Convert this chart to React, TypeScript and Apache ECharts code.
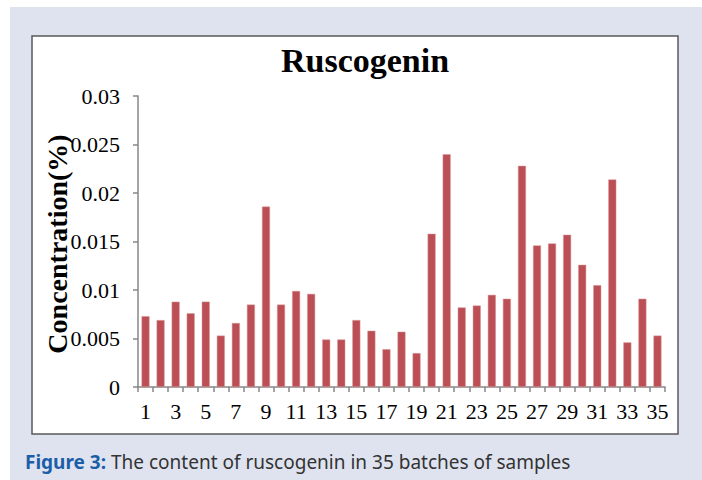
import React, { useEffect, useRef } from "react";
import * as echarts from "echarts";

const categories = Array.from({ length: 35 }, (_, i) => String(i + 1));
const concentration = [
  0.0073, 0.0069, 0.0088, 0.0076, 0.0088, 0.0053, 0.0066, 0.0085, 0.0186, 0.0085,
  0.0099, 0.0096, 0.0049, 0.0049, 0.0069, 0.0058, 0.0039, 0.0057, 0.0035, 0.0158,
  0.024, 0.0082, 0.0084, 0.0095, 0.0091, 0.0228, 0.0146, 0.0148, 0.0157, 0.0126,
  0.0105, 0.0214, 0.0046, 0.0091, 0.0053,
];
const titleText = "Ruscogenin";
const yAxisTitle = "Concentration(%)";
const captionBold = "Figure 3:";
const captionText = " The content of ruscogenin in 35 batches of samples";

export default function App() {
  const ref = useRef<HTMLDivElement>(null);
  useEffect(() => {
    document.body.style.margin = "0";
    const chart = echarts.init(ref.current!, null, { renderer: "svg" });
    const serif = "'Liberation Serif', 'Times New Roman', serif";
    chart.setOption({
      animation: false,
      backgroundColor: "#ffffff",
      graphic: [
        {
          type: "rect",
          z: -10,
          silent: true,
          shape: { x: 10, y: 7, width: 692, height: 473 },
          style: { fill: "#dfe3f0" },
        },
        {
          type: "rect",
          z: -9,
          silent: true,
          shape: { x: 32, y: 36, width: 646, height: 398 },
          style: { fill: "#ffffff", stroke: "#5a5a5a", lineWidth: 1.5 },
        },
        {
          type: "text",
          x: 365,
          y: 60,
          style: {
            text: titleText,
            font: `bold 34px ${serif}`,
            fill: "#000",
            textAlign: "center",
            textVerticalAlign: "middle",
          },
        },
        {
          type: "text",
          x: 57,
          y: 244,
          rotation: Math.PI / 2,
          z: 10,
          style: {
            text: yAxisTitle,
            font: `bold 28px ${serif}`,
            fill: "#000",
            textAlign: "center",
            textVerticalAlign: "middle",
          },
        },
        {
          type: "text",
          x: 25,
          y: 462,
          style: {
            rich: {
              b: { fontFamily: "'Noto Sans', sans-serif", fontWeight: "bold", fontSize: 19, fill: "#1b5ea8" },
              n: { fontFamily: "'Noto Sans', sans-serif", fontSize: 19, fill: "#333333" },
            },
            text: `{b|${captionBold}}{n|${captionText}}`,
            textVerticalAlign: "middle",
          },
        },
      ],
      grid: { left: 138, right: 37, top: 96, bottom: 93, containLabel: false },
      xAxis: {
        type: "category",
        data: categories,
        boundaryGap: true,
        axisLine: { lineStyle: { color: "#878787", width: 1.5 } },
        axisTick: { show: true, interval: 0, length: 5, lineStyle: { color: "#878787", width: 1.5 } },
        axisLabel: { interval: 1, margin: 13, fontFamily: serif, fontSize: 22, color: "#000" },
        splitLine: { show: false },
      },
      yAxis: {
        type: "value",
        min: 0,
        max: 0.03,
        interval: 0.005,
        axisLine: { show: true, lineStyle: { color: "#878787", width: 1.5 } },
        axisTick: { show: true, length: 5, lineStyle: { color: "#878787", width: 1.5 } },
        axisLabel: {
          margin: 18,
          fontFamily: serif,
          fontSize: 22,
          color: "#000",
          formatter: (v: number) => String(+v.toFixed(3)),
        },
        splitLine: { show: false },
      },
      series: [
        {
          type: "bar",
          data: concentration,
          barWidth: 8,
          itemStyle: { color: "#bb4f55", borderColor: "#d99a9c", borderWidth: 0.5 },
        },
      ],
    });
    return () => chart.dispose();
  }, []);
  return <div ref={ref} style={{ width: 702, height: 480 }} />;
}
